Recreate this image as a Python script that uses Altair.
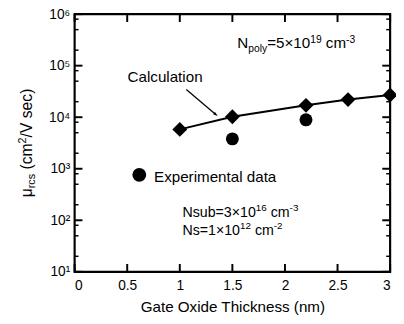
import altair as alt
import pandas as pd

# ---- data ----
calc_x = [1.0, 1.5, 2.2, 2.6, 3.0]
calc_y = [5800, 10200, 17000, 22000, 27000]
exp_x = [1.5, 2.2]
exp_y = [3800, 8900]

x_ticks = [0, 0.5, 1, 1.5, 2, 2.5, 3]
x_tick_labels = ["0", "0.5", "1", "1.5", "2", "2.5", "3"]
y_ticks = [1e1, 1e2, 1e3, 1e4, 1e5, 1e6]
y_tick_labels = ["10¹", "10²", "10³", "10⁴", "10⁵", "10⁶"]
y_minor_mult = [2, 5, 8]
y_minor = [m * 10 ** e for e in range(1, 6) for m in y_minor_mult]

W, H = 322, 263
FONT = "Liberation Sans"

xs = alt.Scale(domain=[0, 3], nice=False, zero=False)
ys = alt.Scale(type="log", domain=[10, 1e6], nice=False)

XAX = alt.Axis(values=x_ticks, title="Gate Oxide Thickness (nm)",
               labelExpr="[" + ",".join("'%s'" % s for s in x_tick_labels) + "][indexof(" + str(x_ticks) + ", datum.value)]")
YAX = alt.Axis(values=y_ticks, title=None,
               labelExpr="[" + ",".join("'%s'" % s for s in y_tick_labels) + "][round(log(datum.value)/LN10)-1]")


def X(f="x"):
    return alt.X(f + ":Q", scale=xs, axis=XAX)


def Y(f="y"):
    return alt.Y(f + ":Q", scale=ys, axis=YAX)


# Arial/Liberation Sans advance widths (per 1000 em)
AW = {' ': 278, '(': 333, ')': 333, '/': 278, '=': 584, '×': 584, '-': 333,
      'N': 722, 's': 500, 'u': 556, 'b': 556, 'c': 500, 'm': 833, 'p': 556,
      'o': 556, 'l': 222, 'y': 500, 'V': 667, 'e': 556, 'r': 333, 'μ': 576,
      'a': 556, 't': 278, 'i': 222, 'n': 556, 'C': 722, 'E': 667, 'x': 500, 'd': 556}
for d in "0123456789":
    AW[d] = 556


def tw(s, size):
    return sum(AW.get(ch, 556) for ch in s) * size / 1000.0


def rich(x, y, segs):
    """segs: (text, size, vertical shift, leading gap in px)"""
    layers = []
    off = 0.0
    df = pd.DataFrame({"x": [x], "y": [y]})
    for text, size, shift, gap in segs:
        off += gap
        layers.append(
            alt.Chart(df).mark_text(text=text, fontSize=size, font=FONT, align="left",
                                    baseline="alphabetic", dx=off, dy=shift, color="black")
            .encode(x=X(), y=Y())
        )
        off += tw(text, size)
    return layers


BIG, SMALL = 15.5, 10.5
SP = 4.3

calc_df = pd.DataFrame({"x": calc_x, "y": calc_y})
exp_df = pd.DataFrame({"x": exp_x, "y": exp_y})

line = alt.Chart(calc_df).mark_line(color="black", strokeWidth=2).encode(x=X(), y=Y())
diamonds = alt.Chart(calc_df).mark_point(shape="diamond", filled=True, size=230, color="black", opacity=1).encode(
    x=X(), y=Y())
circles = alt.Chart(exp_df).mark_point(shape="circle", filled=True, size=175, color="black", opacity=1).encode(
    x=X(), y=Y())

# inward tick marks
xt = pd.DataFrame({"t": x_ticks})
yt = pd.DataFrame({"t": y_ticks})
ym = pd.DataFrame({"t": y_minor})
ticks = []
for y0, y1 in [(H, H - 8), (0, 8)]:
    ticks.append(alt.Chart(xt).mark_rule(color="black", strokeWidth=2).encode(
        x=X("t"), y=alt.value(y0), y2=alt.value(y1)))
for x0, x1 in [(0, 8), (W, W - 8)]:
    ticks.append(alt.Chart(yt).mark_rule(color="black", strokeWidth=2).encode(
        y=Y("t"), x=alt.value(x0), x2=alt.value(x1)))
for x0, x1 in [(0, 4), (W, W - 4)]:
    ticks.append(alt.Chart(ym).mark_rule(color="black", strokeWidth=1.5).encode(
        y=Y("t"), x=alt.value(x0), x2=alt.value(x1)))

# annotations (data coordinates)
ann = []
ann += rich(1.547, 2.16e5, [("N", BIG, 0, 0), ("poly", SMALL, 4, 0), ("=5×10", BIG, 0, 0), ("19", SMALL, -6, 0),
                            ("cm", BIG, 0, SP), ("-3", SMALL, -6, 0)])
ann += rich(0.503, 4.88e4, [("Calculation", BIG, 0, 0)])
ann += rich(0.755, 561, [("Experimental data", BIG, 0, 0)])
ann += rich(1.025, 116, [("Nsub=3×10", 14.5, 0, 0), ("16", 10, -6, 0), ("cm", 14.5, 0, 4), ("-3", 10, -6, 0)])
ann += rich(1.025, 52.7, [("Ns=1×10", 14.5, 0, 0), ("12", 10, -6, 0), ("cm", 14.5, 0, 4), ("-2", 10, -6, 0)])

legend_pt = alt.Chart(pd.DataFrame({"x": [0.615], "y": [762]})).mark_point(
    shape="circle", filled=True, size=200, color="black", opacity=1).encode(x=X(), y=Y())

arrow_df = pd.DataFrame({"x": [1.062], "y": [3.44e4], "x2": [1.345], "y2": [1.12e4]})
arrow_line = alt.Chart(arrow_df).mark_rule(color="black", strokeWidth=1.3).encode(
    x=X(), y=Y(), x2="x2:Q", y2="y2:Q")
arrow_head = alt.Chart(pd.DataFrame({"x": [1.36], "y": [1.05e4]})).mark_point(
    shape="M0,0L0.32,1L-0.32,1Z", filled=True, size=90, angle=130, color="black", opacity=1).encode(
    x=X(), y=Y())

# rotated y-axis title, composed of pieces: (text, size, shift, leading gap)
ysegs = [("μ", 16, 0, 0), ("rcs", 11, 4, 0), ("(cm", 16, 0, 4.5), ("2", 11, -6, 0), ("/V", 16, 0, 0),
         ("sec)", 16, 0, 4.5)]
total = sum(tw(t, s) + g for t, s, _, g in ysegs)
ypos = H / 2 + total / 2
ytitle = []
for text, size, shift, gap in ysegs:
    ypos -= gap
    ytitle.append(alt.Chart(pd.DataFrame({"a": [0]})).mark_text(
        text=text, fontSize=size, font=FONT, angle=270, align="left", baseline="alphabetic", color="black")
        .encode(x=alt.value(-44 + shift), y=alt.value(ypos)))
    ypos -= tw(text, size)

chart = alt.layer(line, diamonds, circles, legend_pt, arrow_line, arrow_head, *ticks, *ann, *ytitle).properties(
    width=W, height=H, autosize=alt.AutoSizeParams(type="none"),
    padding={"left": 68, "top": 3, "right": 6, "bottom": 50},
).configure_view(stroke="black", strokeWidth=2.2).configure_axis(
    domain=False, ticks=False, grid=False, labelFont=FONT, labelFontSize=14, labelColor="black",
    titleFont=FONT, titleFontSize=15.5, titleColor="black", titleFontWeight="normal",
).configure_axisX(labelPadding=7, titlePadding=8).configure_axisY(labelPadding=5)

chart.save("out.html", embed_options={"renderer": "svg", "actions": False})
